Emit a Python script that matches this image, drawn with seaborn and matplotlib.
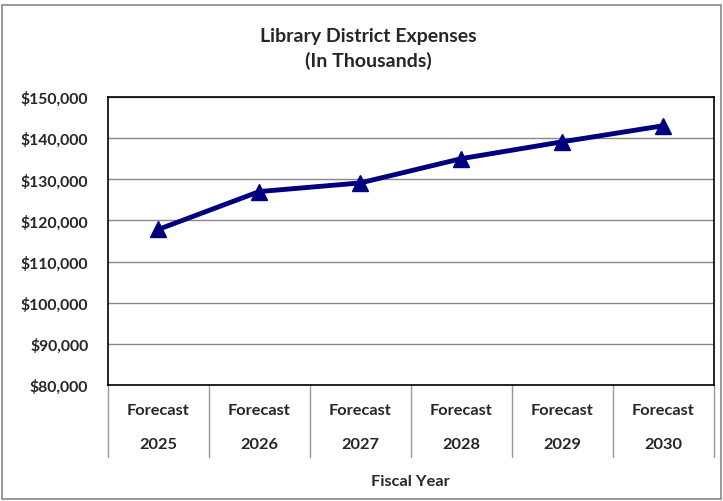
import matplotlib
matplotlib.use('Agg')
import matplotlib.pyplot as plt
import seaborn as sns
import pandas as pd
from matplotlib.patches import Rectangle
from matplotlib.ticker import FuncFormatter

# data
years = ['2025', '2026', '2027', '2028', '2029', '2030']
labels = ['Forecast\n' + y for y in years]
expenses = [117800, 127000, 129100, 135000, 139100, 143000]

df = pd.DataFrame({'Fiscal Year': labels, 'Expenses': expenses})

sns.set_theme(style='white')
plt.rcParams['font.family'] = ['Lato', 'DejaVu Sans']
plt.rcParams['font.weight'] = 'bold'

fig = plt.figure(figsize=(7.23, 5.02), dpi=100)
ax = fig.add_axes([0.149, 0.231, 0.8385, 0.574])

sns.lineplot(data=df, x='Fiscal Year', y='Expenses', ax=ax, sort=False,
             color='#00007f', linewidth=3.5, marker='^', markersize=12,
             markeredgecolor='#00007f', markeredgewidth=1)

ax.set_ylim(80000, 150000)
ax.set_xlim(-0.5, len(labels) - 0.5)
ax.set_yticks(range(80000, 150001, 10000))
ax.yaxis.set_major_formatter(FuncFormatter(lambda v, p: f'${v:,.0f}'))
ax.grid(axis='y', color='#888888', linewidth=1)
ax.grid(axis='x', visible=False)
for s in ax.spines.values():
    s.set_color('black')
    s.set_linewidth(1.2)

ax.tick_params(axis='y', labelsize=11.3, pad=14, length=0)
ax.tick_params(axis='x', labelsize=11.8, pad=13, length=0)
for t in ax.get_xticklabels():
    t.set_linespacing(2.85)
    t.set_fontweight('bold')
for t in ax.get_yticklabels():
    t.set_fontweight('bold')

# category separators below the axis
trans = ax.get_xaxis_transform()
for i in range(len(labels) + 1):
    ax.plot([i - 0.5, i - 0.5], [0, -0.25], transform=trans, color='#999999',
            linewidth=1, clip_on=False)

ax.set_xlabel('Fiscal Year', fontsize=11.8, fontweight='bold', labelpad=16)
ax.set_ylabel('')

fig.text(0.51, 0.903, 'Library District Expenses\n(In Thousands)', ha='center',
         va='center', fontsize=14, fontweight='bold', linespacing=1.45)

fig.patches.append(Rectangle((0.003, 0.004), 0.994, 0.984, transform=fig.transFigure,
                             fill=False, edgecolor='#888888', linewidth=1.2))

fig.savefig('out.png', dpi=100)
